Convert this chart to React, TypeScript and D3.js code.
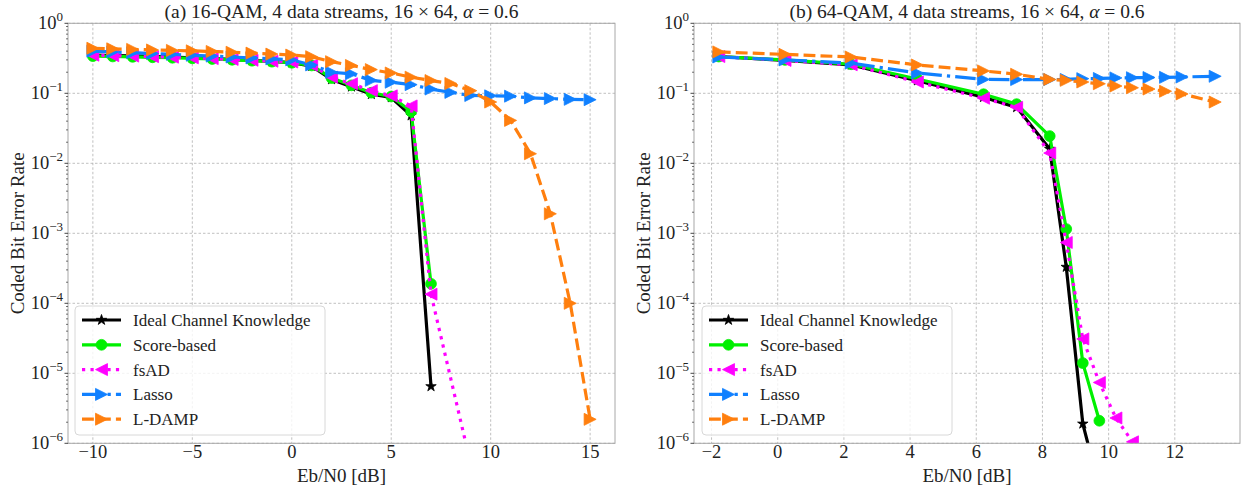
import React from 'react';
import * as d3 from 'd3';

// ---------- DATA ----------
// Panel (a): 16-QAM
const ebnoA = [-10, -9, -8, -7, -6, -5, -4, -3, -2, -1, 0, 1, 2, 3, 4, 5, 6, 7, 8, 9, 10, 11, 12, 13, 14, 15];
const idealA = [0.352, 0.347, 0.342, 0.336, 0.33, 0.322, 0.314, 0.305, 0.295, 0.285, 0.274, 0.245, 0.158, 0.124, 0.097, 0.087, 0.048, 6.5e-6];
const scoreA = [0.34, 0.336, 0.332, 0.327, 0.322, 0.316, 0.309, 0.301, 0.292, 0.283, 0.273, 0.25, 0.165, 0.13, 0.102, 0.09, 0.055, 1.9e-4];
const fsadA = [0.35, 0.345, 0.34, 0.334, 0.328, 0.321, 0.313, 0.305, 0.296, 0.287, 0.28, 0.252, 0.17, 0.137, 0.109, 0.092, 0.066, 1.35e-4, null, 5e-7];
const lassoA = [0.4, 0.39, 0.38, 0.37, 0.36, 0.35, 0.34, 0.33, 0.32, 0.31, 0.3, 0.254, 0.2, 0.19, 0.153, 0.144, 0.133, 0.115, 0.103, 0.093, 0.092, 0.091, 0.086, 0.084, 0.082, 0.081];
const ldampA = [0.44, 0.432, 0.424, 0.416, 0.41, 0.404, 0.396, 0.386, 0.375, 0.363, 0.352, 0.333, 0.283, 0.25, 0.218, 0.195, 0.17, 0.152, 0.138, 0.109, 0.075, 0.041, 0.0137, 0.0019, 1.0e-4, 2.2e-6];

// Panel (b): 64-QAM
const ebnoB = [-1.78, 0.22, 2.22, 4.22, 6.22, 7.22, 8.22, 8.72, 9.22, 9.72, 10.22, 10.72, 11.22, 11.72, 12.22, 13.22];
const idealB = [0.335, 0.295, 0.255, 0.152, 0.088, 0.063, 0.016, 3.3e-4, 1.9e-6, 2.3e-7];
const scoreB = [0.335, 0.3, 0.26, 0.16, 0.097, 0.07, 0.0245, 1.15e-3, 1.4e-5, 2.1e-6];
const fsadB = [0.335, 0.295, 0.255, 0.145, 0.085, 0.063, 0.014, 7.4e-4, 3.1e-5, 7.4e-6, 2.3e-6, 1.05e-6, 7.5e-7];
const lassoB = [0.33, 0.3, 0.27, 0.195, 0.158, 0.157, 0.157, 0.158, 0.162, 0.163, 0.166, 0.167, 0.168, 0.169, 0.171, 0.175];
const ldampB = [0.39, 0.36, 0.33, 0.254, 0.209, 0.187, 0.158, 0.153, 0.145, 0.137, 0.127, 0.12, 0.115, 0.107, 0.098, 0.075];

const xTicksA = [-10, -5, 0, 5, 10, 15];
const xTicksB = [-2, 0, 2, 4, 6, 8, 10, 12];
const yTickExps = [0, -1, -2, -3, -4, -5, -6];

const seriesNames = ['Ideal Channel Knowledge', 'Score-based', 'fsAD', 'Lasso', 'L-DAMP'];
const titleA = '(a) 16-QAM, 4 data streams, ';
const titleB = '(b) 64-QAM, 4 data streams, ';
const xLabel = 'Eb/N0 [dB]';
const yLabel = 'Coded Bit Error Rate';

// ---------- STYLE ----------
const FONT = '"Liberation Serif", "Times New Roman", serif';
const LW = 3.2;
const styles = [
  { color: '#000000', dash: null, marker: 'star' },
  { color: '#00f000', dash: null, marker: 'circle' },
  { color: '#ff00ff', dash: `${LW} ${LW * 1.65}`, marker: 'tri-left' },
  { color: '#1080ff', dash: `${LW * 6.4} ${LW * 1.6} ${LW} ${LW * 1.6}`, marker: 'tri-right' },
  { color: '#ff7f0e', dash: `${LW * 3.7} ${LW * 1.6}`, marker: 'tri-right' },
];

function markerPath(kind: string): string {
  if (kind === 'star') return d3.symbol().type(d3.symbolStar).size(34)() as string;
  if (kind === 'circle') return d3.symbol().type(d3.symbolCircle).size(Math.PI * 5.4 * 5.4)() as string;
  const h = 6;
  if (kind === 'tri-left') return `M${-h},0L${h},${-h}L${h},${h}Z`;
  return `M${h},0L${-h},${-h}L${-h},${h}Z`;
}

const TOP = 23.3;
const BOTTOM = 443.3;

type PanelProps = {
  id: string;
  left: number;
  right: number;
  xDomain: [number, number];
  xs: number[];
  data: (number | null)[][];
  xTicks: number[];
  title: string;
  legendLeft: number;
};

function Panel({ id, left, right, xDomain, xs, data, xTicks, title, legendLeft }: PanelProps) {
  const x = d3.scaleLinear().domain(xDomain).range([left, right]);
  const y = d3.scaleLog().domain([1e-6, 1]).range([BOTTOM, TOP]);
  const line = d3.line<[number, number]>().x((d) => x(d[0])).y((d) => y(d[1]));
  const minor: number[] = [];
  for (let e = -6; e < 0; e++) for (let k = 2; k <= 9; k++) minor.push(k * Math.pow(10, e));
  const cx = (left + right) / 2;
  const cy = (TOP + BOTTOM) / 2;
  const legendTop = 306;
  const rowH = 24.8;

  return (
    <g>
      <defs>
        <clipPath id={`clip-${id}`}>
          <rect x={left} y={TOP} width={right - left} height={BOTTOM - TOP} />
        </clipPath>
      </defs>
      {/* grid */}
      {xTicks.map((t) => (
        <line key={`gx${t}`} x1={x(t)} x2={x(t)} y1={TOP} y2={BOTTOM} stroke="#b0b0b0" strokeWidth={0.8} strokeDasharray="2.5 2" />
      ))}
      {yTickExps.map((e) => (
        <line key={`gy${e}`} x1={left} x2={right} y1={y(Math.pow(10, e))} y2={y(Math.pow(10, e))} stroke="#b0b0b0" strokeWidth={0.8} strokeDasharray="2.5 2" />
      ))}
      {/* series */}
      <g clipPath={`url(#clip-${id})`}>
        {data.map((vals, si) => {
          const pts = vals
            .map((v, i) => [xs[i], v] as [number, number | null])
            .filter((p) => p[1] !== null) as [number, number][];
          const st = styles[si];
          const mp = markerPath(st.marker);
          return (
            <g key={si}>
              <path d={line(pts) || ''} fill="none" stroke={st.color} strokeWidth={LW}
                strokeDasharray={st.dash || undefined} strokeLinejoin="round" strokeLinecap={st.dash ? 'butt' : 'square'} />
              {pts.map((p, i) => (
                <path key={i} d={mp} transform={`translate(${x(p[0])},${y(p[1])})`} fill={st.color} stroke={st.color} strokeWidth={0.8} />
              ))}
            </g>
          );
        })}
      </g>
      {/* frame */}
      <rect x={left} y={TOP} width={right - left} height={BOTTOM - TOP} fill="none" stroke="#a8a8a8" strokeWidth={1} />
      {/* y ticks */}
      {yTickExps.map((e) => (
        <line key={`ty${e}`} x1={left - 3.5} x2={left} y1={y(Math.pow(10, e))} y2={y(Math.pow(10, e))} stroke="#333" strokeWidth={0.9} />
      ))}
      {minor.map((m, i) => (
        <line key={`tm${i}`} x1={left - 2} x2={left} y1={y(m)} y2={y(m)} stroke="#333" strokeWidth={0.7} />
      ))}
      {yTickExps.map((e) => (
        <text key={`ly${e}`} x={left - 5} y={y(Math.pow(10, e)) + 6} textAnchor="end" fontFamily={FONT} fontSize={18.5} fill="#222">
          <tspan>10</tspan>
          <tspan dy={-8} fontSize={13}>{e === 0 ? '0' : `\u2212${-e}`}</tspan>
        </text>
      ))}
      {/* x tick labels */}
      {xTicks.map((t) => (
        <text key={`lx${t}`} x={x(t)} y={458} textAnchor="middle" fontFamily={FONT} fontSize={18.5} fill="#222">
          {t < 0 ? `\u2212${-t}` : `${t}`}
        </text>
      ))}
      <text x={cx} y={482} textAnchor="middle" fontFamily={FONT} fontSize={19} fill="#222">{xLabel}</text>
      <text transform={`translate(${left - 44},${cy}) rotate(-90)`} textAnchor="middle" fontFamily={FONT} fontSize={19} fill="#222">{yLabel}</text>
      <text x={cx} y={18} textAnchor="middle" fontFamily={FONT} fontSize={19.5} fill="#222">
        <tspan>{title}16 × 64, </tspan>
        <tspan fontStyle="italic">α</tspan>
        <tspan> = 0.6</tspan>
      </text>
      {/* legend */}
      <rect x={legendLeft} y={legendTop} width={250} height={129} rx={4} fill="#ffffff" fillOpacity={0.8} stroke="#d8d8d8" strokeWidth={1} />
      {seriesNames.map((name, i) => {
        const st = styles[i];
        const ly = legendTop + 14 + i * rowH;
        const x0 = legendLeft + 7;
        const x1 = legendLeft + 46;
        return (
          <g key={name}>
            <line x1={x0} x2={x1} y1={ly} y2={ly} stroke={st.color} strokeWidth={LW} strokeDasharray={st.dash || undefined} />
            <path d={markerPath(st.marker)} transform={`translate(${(x0 + x1) / 2},${ly})`} fill={st.color} stroke={st.color} strokeWidth={0.8} />
            <text x={legendLeft + 58} y={ly + 6} fontFamily={FONT} fontSize={17} fill="#222">{name}</text>
          </g>
        );
      })}
    </g>
  );
}

export default function App() {
  return (
    <svg width={1248} height={493} style={{ position: 'absolute', left: 0, top: 0, background: '#fff' }}>
      <rect x={0} y={0} width={1248} height={493} fill="#fff" />
      <Panel id="a" left={68} right={615} xDomain={[-11.25, 16.25]} xs={ebnoA}
        data={[idealA, scoreA, fsadA, lassoA, ldampA]} xTicks={xTicksA} title={titleA} legendLeft={75} />
      <Panel id="b" left={694} right={1240} xDomain={[-2.53, 13.97]} xs={ebnoB}
        data={[idealB, scoreB, fsadB, lassoB, ldampB]} xTicks={xTicksB} title={titleB} legendLeft={702} />
    </svg>
  );
}
